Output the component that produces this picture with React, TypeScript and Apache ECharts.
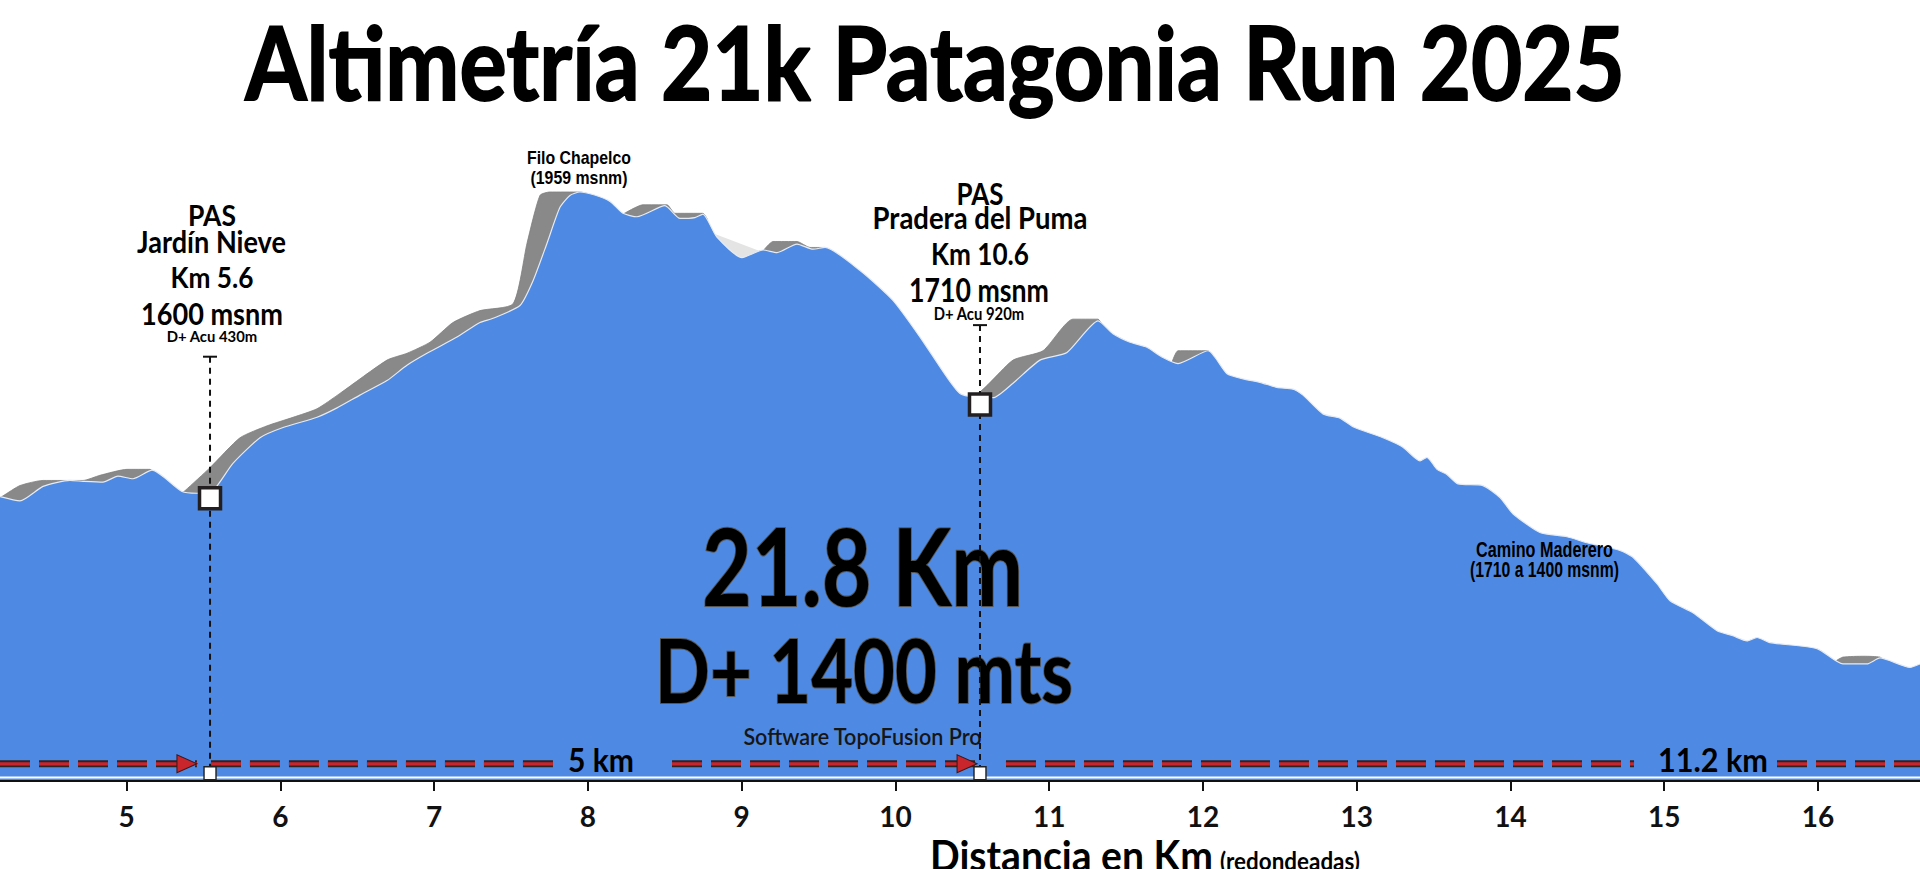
import React, { useEffect, useRef } from "react";
import * as echarts from "echarts";

// ---------- data ----------
const kmTicks = [5, 6, 7, 8, 9, 10, 11, 12, 13, 14, 15, 16];

const profileKm = [
  4.176, 4.306, 4.456, 4.631, 4.716, 4.846, 4.943, 5.041, 5.165, 5.36, 5.457, 5.561, 5.691, 5.867,
  6.017, 6.238, 6.368, 6.517, 6.693, 6.823, 6.953, 7.148, 7.298, 7.383, 7.558, 7.643, 7.734, 7.818,
  7.883, 7.948, 8.033, 8.144, 8.228, 8.319, 8.501, 8.599, 8.696, 8.748, 8.839, 9.002, 9.139, 9.23,
  9.36, 9.464, 9.542, 9.77, 9.984, 10.16, 10.335, 10.42, 10.53, 10.635, 10.765, 10.94, 11.116,
  11.318, 11.415, 11.526, 11.636, 11.74, 11.838, 12.033, 12.157, 12.261, 12.371, 12.482, 12.586,
  12.651, 12.781, 12.892, 12.976, 13.171, 13.301, 13.412, 13.457, 13.523, 13.587, 13.659, 13.821,
  13.932, 14.016, 14.192, 14.368, 14.498, 14.712, 14.797, 14.953, 15.038, 15.187, 15.344, 15.447,
  15.539, 15.604, 15.688, 15.994, 16.163, 16.319, 16.404, 16.599, 16.664,
];
const profileElev = [
  1602, 1597, 1614, 1621, 1620, 1619, 1626, 1623, 1633, 1608, 1606, 1609, 1641, 1671,
  1683, 1695, 1706, 1721, 1738, 1756, 1770, 1789, 1806, 1811, 1826, 1855, 1899, 1941,
  1955, 1959, 1956, 1948, 1934, 1930, 1943, 1928, 1929, 1933, 1906, 1882, 1891, 1888,
  1898, 1892, 1894, 1867, 1832, 1789, 1742, 1723, 1718, 1718, 1735, 1762, 1771,
  1808, 1793, 1783, 1777, 1765, 1758, 1773, 1746, 1740, 1736, 1730, 1728,
  1721, 1699, 1694, 1684, 1671, 1660, 1644, 1648, 1634, 1628, 1617, 1615,
  1601, 1582, 1560, 1555, 1548, 1539, 1531, 1500, 1480, 1466, 1445, 1439,
  1433, 1437, 1431, 1424, 1406, 1406, 1413, 1402, 1406,
];

// grey "relief" edge behind the profile (null = gap)
const shadowKm = [
  4.176, 4.196, 4.306, 4.456, 4.716, 4.826, 5.002, 5.152, 5.175, 5.25,
  5.36, 5.379, 5.542, 5.737, 5.913, 6.082, 6.238, 6.387, 6.693, 6.823, 6.973, 7.122, 7.298, 7.513,
  7.604, 7.688, 7.753, 7.948, 8.0, 8.1,
  8.228, 8.358, 8.514, 8.566, 8.748, 8.78, 8.9,
  9.139, 9.204, 9.36, 9.444, 9.542, 9.56, 9.7,
  10.42, 10.485, 10.765, 10.96, 11.155, 11.318, 11.34, 11.5,
  11.8, 11.838, 12.033, 12.06, 12.5,
  16.12, 16.163, 16.3, 16.404, 16.43,
];
const shadowElev = [
  1601, 1603, 1615, 1621, 1621, 1627, 1634, 1634, 1631, null,
  1607, 1609, 1636, 1671, 1685, 1695, 1705, 1723, 1762, 1770, 1783, 1806, 1820, 1828,
  1899, 1955, 1959, 1959, 1957, null,
  1933, 1944, 1944, 1934, 1934, 1926, null,
  1890, 1901, 1901, 1894, 1894, 1892, null,
  1722, 1718, 1762, 1773, 1810, 1810, 1805, null,
  1760, 1773, 1773, 1768, null,
  1410, 1414, 1415, 1414, 1410,
];
const lightKm = [8.8, 8.839, 9.1, 9.14];
const lightElev = [1912, 1909, 1891, 1889];

const passKm = [5.542, 10.55];
const passElev = [1600, 1710];
const passTopElev = [1766, 1803];
const passFootElev = 1278;
const trackElev = 1289;
const trackFrom = [4.176, 5.548, 8.547, 10.719, 15.734];
const trackTo = [5.457, 7.786, 10.53, 14.804, 16.664];
const arrowKm = [5.392, 10.466];

const X_MIN = 4.176;
const X_MAX = 16.664;
const Y_MIN = 1270;
const Y_MAX = 2000;

// ---------- helpers ----------
const measureCtx = typeof document !== "undefined" ? document.createElement("canvas").getContext("2d") : null;
function fitScale(text: string, size: number, weight: string, family: string, width: number) {
  if (!measureCtx) return 1;
  measureCtx.font = `${weight} ${size}px ${family}`;
  const w = measureCtx.measureText(text).width || 1;
  return width / w;
}
const LATO = "Lato";
const NARROW = "'Liberation Sans'";

// text whose visual height is that of `size` and whose width is `width`:
// font size is reduced to fit the width, then stretched vertically
function txt(
  text: string,
  cx: number,
  cy: number,
  size: number,
  width: number,
  o: { family?: string; weight?: string; fill?: string; stroke?: string; lw?: number; z?: number } = {}
) {
  const family = o.family ?? LATO;
  const weight = o.weight ?? "bold";
  const s = fitScale(text, size, weight, family, width);
  return {
    type: "text",
    x: cx,
    y: cy,
    scaleY: 1 / s,
    z: o.z ?? 3,
    silent: true,
    style: {
      text,
      x: 0,
      y: 0,
      fontSize: size * s,
      fontWeight: weight,
      fontFamily: family.replace(/'/g, ""),
      fill: o.fill ?? "#000",
      stroke: o.stroke,
      lineWidth: o.lw ?? 0,
      align: "center",
      verticalAlign: "middle",
    },
  };
}

const App: React.FC = () => {
  const ref = useRef<HTMLDivElement>(null);

  useEffect(() => {
    if (!ref.current) return;
    const chart = echarts.init(ref.current, undefined, { renderer: "svg" });

    const profile = profileKm.map((k, i) => [k, profileElev[i]]);
    const shadow = shadowKm.map((k, i) => [k, shadowElev[i]]);
    const light = lightKm.map((k, i) => [k, lightElev[i]]);

    const track: any[] = [];
    trackFrom.forEach((f, i) => {
      track.push([f, trackElev], [trackTo[i], trackElev]);
      if (i < trackFrom.length - 1) track.push([trackTo[i], null]);
    });

    const verticals: any[] = [];
    passKm.forEach((k, i) => {
      verticals.push([k, passTopElev[i]], [k, passFootElev]);
      if (i < passKm.length - 1) verticals.push([k, null]);
    });

    const graphic: any[] = [
      txt("Altimetría 21k Patagonia Run 2025", 935, 61, 101, 1380, { stroke: "#000", lw: 1.6 }),
      txt("Filo Chapelco", 579, 157, 19, 104, { family: NARROW }),
      txt("(1959 msnm)", 579, 177, 19, 97, { family: NARROW }),
      txt("PAS", 212, 215, 28, 48),
      txt("Jardín Nieve", 211.5, 241, 30, 149),
      txt("Km 5.6", 212, 277, 28, 83),
      txt("1600 msnm", 212, 313.5, 30, 142),
      txt("D+ Acu 430m", 212, 335.5, 16, 91),
      txt("PAS", 980, 193.5, 31, 47),
      txt("Pradera del Puma", 980, 216.5, 31, 215),
      txt("Km 10.6", 980, 253.5, 31, 98),
      txt("1710 msnm", 979, 290, 32, 140),
      txt("D+ Acu 920m", 979, 313.5, 17, 91),
      txt("Camino Maderero", 1544.5, 550, 22, 137, { family: NARROW }),
      txt("(1710 a 1400 msnm)", 1544.5, 570, 22, 149, { family: NARROW }),
      txt("21.8 Km", 862.5, 564, 108, 321, { stroke: "#555", lw: 1.6 }),
      txt("D+ 1400 mts", 864, 669, 88, 418, { stroke: "#555", lw: 1.6 }),
      txt("Software TopoFusion Pro", 862.5, 736, 23, 239, { weight: "600", fill: "#161616" }),
      txt("5 km", 601, 760, 32, 66),
      txt("11.2 km", 1713, 760, 32, 110),
      txt("Distancia en Km", 1071.5, 855, 42, 283),
      txt("(redondeadas)", 1290, 861, 24, 140),
      {
        type: "rect",
        z: 3,
        silent: true,
        shape: { x: 0, y: 776.5, width: 1920, height: 2 },
        style: { fill: "#ffffff" },
      },
    ];

    const option: any = {
      animation: false,
      backgroundColor: "#ffffff",
      grid: { left: 0, right: 0, top: 157, bottom: 89, containLabel: false },
      xAxis: {
        type: "value",
        min: X_MIN,
        max: X_MAX,
        splitLine: { show: false },
        axisLine: { show: true, lineStyle: { color: "#111", width: 3 } },
        axisTick: {
          show: true,
          customValues: kmTicks,
          length: 11,
          lineStyle: { color: "#111", width: 2 },
        },
        axisLabel: {
          show: true,
          customValues: kmTicks,
          margin: 22,
          fontFamily: LATO,
          fontWeight: "bold",
          fontSize: 28,
          color: "#111",
        },
      },
      yAxis: {
        type: "value",
        min: Y_MIN,
        max: Y_MAX,
        show: false,
        splitLine: { show: false },
      },
      graphic,
      series: [
        {
          type: "line",
          data: light,
          z: 1,
          silent: true,
          showSymbol: false,
          lineStyle: { width: 0 },
          areaStyle: { color: "#e4e4e4", opacity: 1, origin: "start" },
        },
        {
          type: "line",
          data: shadow,
          z: 1,
          silent: true,
          smooth: 0.2,
          showSymbol: false,
          connectNulls: false,
          lineStyle: { width: 0.8, color: "#7f7f7f" },
          areaStyle: { color: "#898989", opacity: 1, origin: "start" },
        },
        {
          type: "line",
          data: profile,
          z: 2,
          silent: true,
          smooth: 0.2,
          showSymbol: false,
          lineStyle: { width: 1.2, color: "#e4ebf4" },
          areaStyle: { color: "#4e8ae3", opacity: 1, origin: "start" },
        },
        {
          type: "line",
          data: track,
          z: 4,
          silent: true,
          showSymbol: false,
          connectNulls: false,
          lineStyle: { color: "#2e2424", width: 7, type: [30, 9], cap: "butt" },
        },
        {
          type: "line",
          data: track,
          z: 4,
          silent: true,
          showSymbol: false,
          connectNulls: false,
          lineStyle: { color: "#c9252c", width: 3.2, type: [30, 9], cap: "butt" },
        },
        {
          type: "scatter",
          data: arrowKm.map((k) => [k, trackElev]),
          z: 5,
          silent: true,
          symbol: "triangle",
          symbolSize: [18, 20],
          symbolRotate: -90,
          itemStyle: { color: "#c9252c", borderColor: "#3a1a1a", borderWidth: 1, opacity: 1 },
        },
        {
          type: "line",
          data: verticals,
          z: 5,
          silent: true,
          showSymbol: false,
          connectNulls: false,
          lineStyle: { color: "#111", width: 2, type: [6, 5] },
        },
        {
          type: "scatter",
          data: passKm.map((k, i) => [k, passTopElev[i]]),
          z: 5,
          silent: true,
          symbol: "rect",
          symbolSize: [14, 2],
          itemStyle: { color: "#111", opacity: 1 },
        },
        {
          type: "scatter",
          data: passKm.map((k, i) => [k, passElev[i]]),
          z: 6,
          silent: true,
          symbol: "rect",
          symbolSize: 21,
          itemStyle: { color: "#ffffff", borderColor: "#231f20", borderWidth: 3.5, opacity: 1 },
        },
        {
          type: "scatter",
          data: passKm.map((k) => [k, passFootElev]),
          z: 6,
          silent: true,
          symbol: "rect",
          symbolSize: [12, 13],
          itemStyle: { color: "#ffffff", borderColor: "#222", borderWidth: 1.5, opacity: 1 },
        },
      ],
    };

    chart.setOption(option);
    const onResize = () => chart.resize();
    window.addEventListener("resize", onResize);
    return () => {
      window.removeEventListener("resize", onResize);
      chart.dispose();
    };
  }, []);

  return (
    <div
      ref={ref}
      style={{ position: "fixed", left: 0, top: 0, width: "1920px", height: "869px", background: "#fff" }}
    />
  );
};

export default App;
